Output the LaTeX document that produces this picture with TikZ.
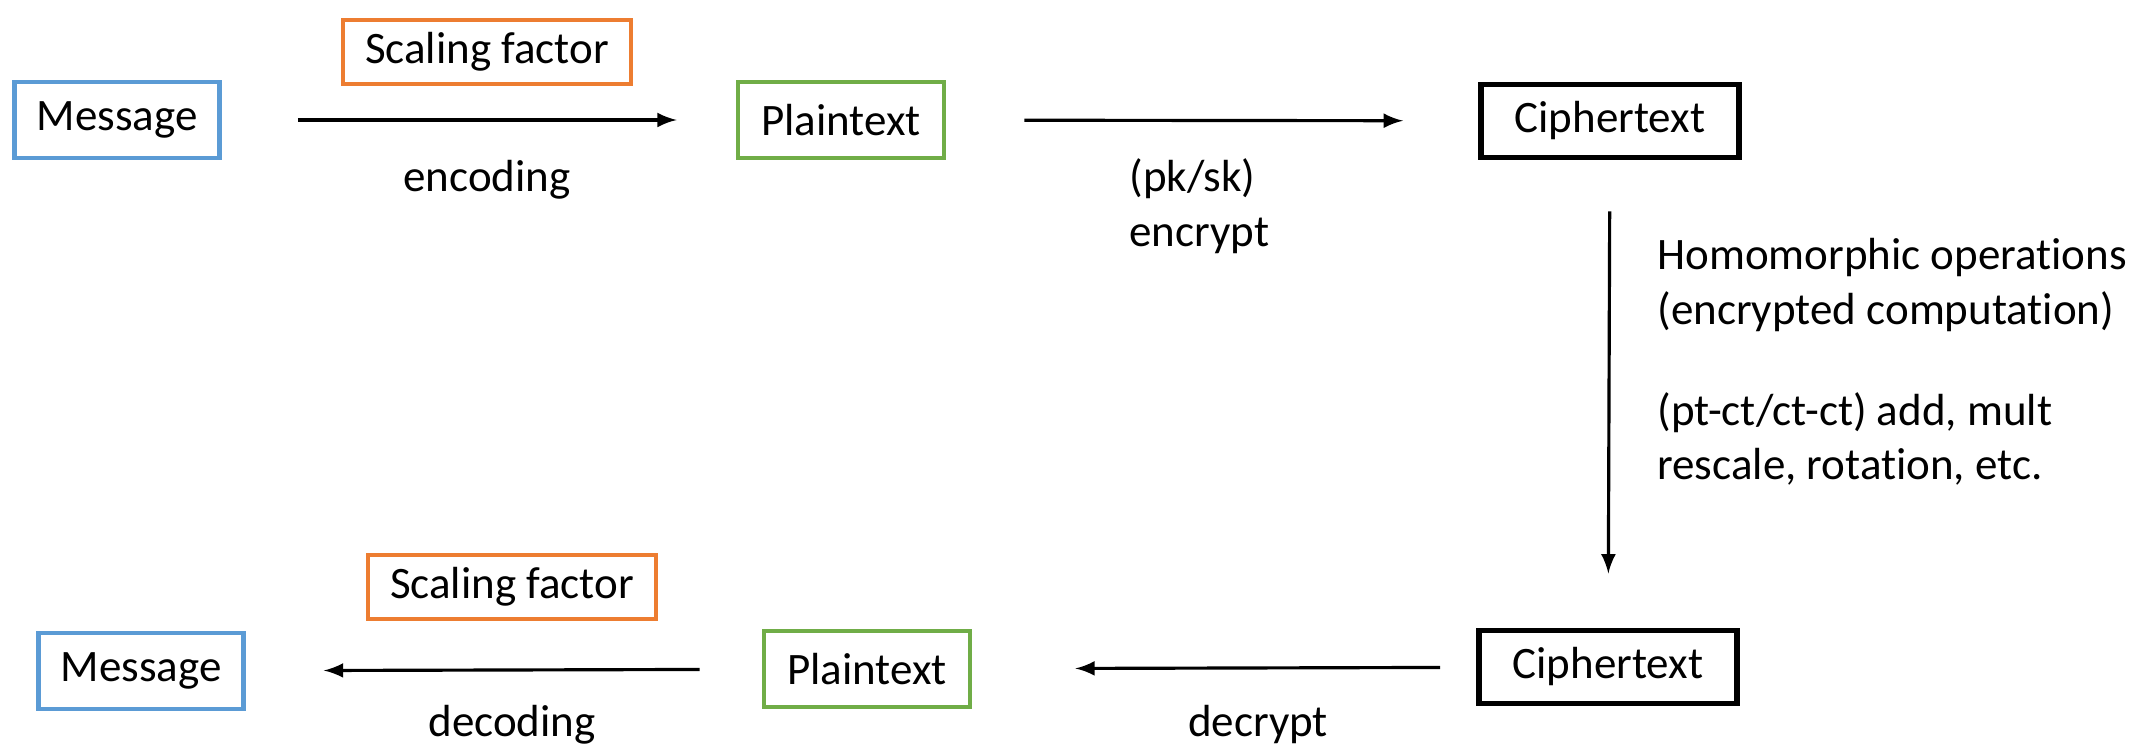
\documentclass[tikz,border=0pt]{standalone}
\usepackage{fontspec}
\setmainfont[RawFeature={-liga;-clig;-calt}]{Carlito}
\usetikzlibrary{positioning,arrows,calc}
\definecolor{msgblue}{RGB}{91,155,213}
\definecolor{scaleorange}{RGB}{237,125,49}
\definecolor{plaingreen}{RGB}{112,173,71}
\tikzset{every picture/.style={>=latex,thick}}
\tikzset{box/.style={draw,line width=1.3pt,minimum height=0.76cm,inner sep=2pt,
    font=\fontsize{12.8}{15.6}\selectfont}}
\tikzset{msgbox/.style={box,draw=msgblue,minimum width=2.05cm}}
\tikzset{scalebox/.style={box,draw=scaleorange,minimum width=2.88cm,minimum height=0.64cm}}
\tikzset{plainbox/.style={box,draw=plaingreen,minimum width=2.06cm}}
\tikzset{cipherbox/.style={box,draw=black,line width=1.7pt,minimum width=2.58cm,minimum height=0.73cm}}
\tikzset{lbl/.style={inner sep=0pt,align=left,font=\fontsize{12.8}{15.6}\selectfont}}
\tikzset{flow/.style={->,line width=0.9pt}}

\begin{document}
\begin{tikzpicture}
      \useasboundingbox (0,0) rectangle (21.51,7.45);
      % top row
      \node[msgbox] (msgA) at (1.17,6.25) {Message};
      \node[plainbox] (plainA) at (8.41,6.25) {Plaintext};
      \node[cipherbox] (cipherA) at (16.10,6.24) {Ciphertext};
      \node[scalebox] (scaleA) at (4.87,6.93) {Scaling factor};
      \node[lbl] (encA) at (4.87,5.65) {encoding};
      \node[lbl,anchor=north west] (encrA) at (11.28,5.88) {(pk/sk)\\encrypt};
      % bottom row
      \node[msgbox] (msgB) at (1.41,0.74) {Message};
      \node[plainbox] (plainB) at (8.67,0.76) {Plaintext};
      \node[cipherbox] (cipherB) at (16.08,0.78) {Ciphertext};
      \node[scalebox] (scaleB) at (5.12,1.58) {Scaling factor};
      \node[lbl] (decB) at (5.12,0.20) {decoding};
      \node[lbl] (decrB) at (12.58,0.20) {decrypt};
      % operations
      \node[lbl,anchor=west] (homOps) at (16.56,4.60) {Homomorphic operations\\(encrypted computation)};
      \node[lbl,anchor=west] (evalOps) at (16.56,3.06) {(pt-ct/ct-ct) add, mult\\rescale, rotation, etc.};
      % arrows
      \draw[flow,shorten <=0.76cm,shorten >=0.59cm] (msgA) -- (plainA);
      \draw[flow,shorten <=0.78cm,shorten >=0.75cm] (plainA) -- (cipherA);
      \draw[flow,shorten <=0.51cm,shorten >=0.54cm] (cipherA) -- (cipherB);
      \draw[flow,shorten <=0.36cm,shorten >=1.03cm] (cipherB) -- (plainB);
      \draw[flow,shorten <=0.62cm,shorten >=0.78cm] (plainB) -- (msgB);
    \end{tikzpicture}
\end{document}
